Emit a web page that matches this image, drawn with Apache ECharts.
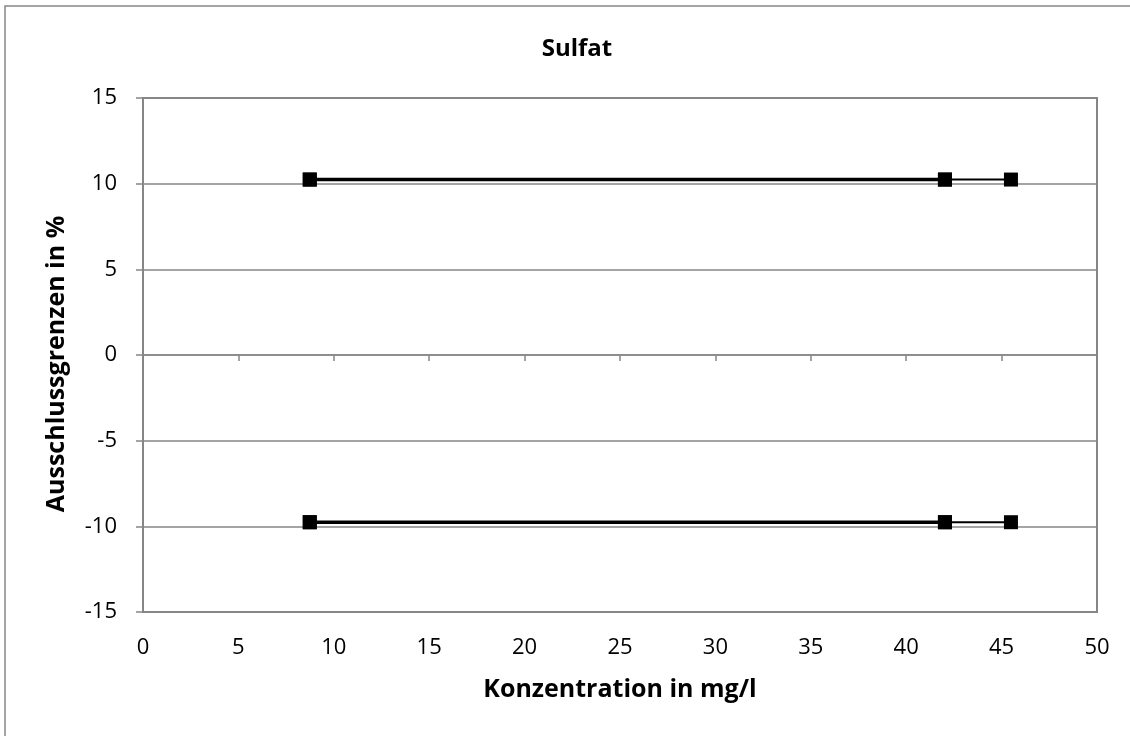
<!DOCTYPE html>
<html>
<head>
<meta charset="utf-8">
<script src="https://cdn.jsdelivr.net/npm/echarts@6/dist/echarts.min.js"></script>
<style>
html,body{margin:0;padding:0;background:#fff;}
#chart{width:1130px;height:736px;}
</style>
</head>
<body>
<div id="chart"></div>
<script>
const chartTitle = 'Sulfat';
const xAxisTitle = 'Konzentration in mg/l';
const yAxisTitle = 'Ausschlussgrenzen in %';
const concentrations = [8.74, 42.03, 45.49];
const upperLimit = [10.24, 10.24, 10.24];
const lowerLimit = [-9.76, -9.76, -9.76];

const FONT = '"Open Sans", "Noto Sans", sans-serif';
const GRAY = '#868686';

function pairs(xs, ys) { return xs.map((x, i) => [x, ys[i]]); }

function lineSeries(data, width) {
  return {
    type: 'line',
    xAxisIndex: 0,
    yAxisIndex: 0,
    data: data,
    symbol: 'rect',
    symbolSize: 14,
    itemStyle: { color: '#000' },
    lineStyle: { color: '#000', width: width },
    animation: false,
    z: 5
  };
}

const chart = echarts.init(document.getElementById('chart'), null, { renderer: 'canvas' });
chart.setOption({
  backgroundColor: '#fff',
  animation: false,
  title: {
    text: chartTitle,
    left: 572,
    textAlign: 'center',
    top: 32,
    textStyle: { fontFamily: FONT, fontWeight: 'bold', fontSize: 24, color: '#000' }
  },
  graphic: [{
    type: 'rect',
    shape: { x: 5, y: 6, width: 1140, height: 760 },
    style: { fill: 'none', stroke: GRAY, lineWidth: 1.5 },
    silent: true, z: -1
  }],
  grid: {
    left: 143, top: 98, right: 33, bottom: 124,
    show: true, borderColor: GRAY, borderWidth: 2, backgroundColor: 'transparent'
  },
  xAxis: [{
    type: 'value', position: 'bottom', min: 0, max: 50, interval: 5,
    name: xAxisTitle, nameLocation: 'middle', nameGap: 65,
    nameTextStyle: { fontFamily: FONT, fontWeight: 'bold', fontSize: 25, color: '#000' },
    axisLine: { show: true, onZero: false, lineStyle: { color: GRAY, width: 2 } },
    axisTick: { show: false },
    axisLabel: { margin: 25, fontFamily: FONT, fontSize: 22, color: '#000' },
    splitLine: { show: false }
  }, {
    type: 'value', position: 'top', min: 0, max: 50, interval: 5,
    axisLine: { show: true, onZero: true, lineStyle: { color: GRAY, width: 1.5 } },
    axisTick: { show: true, inside: true, length: 6, lineStyle: { color: GRAY, width: 1.5 } },
    axisLabel: { show: false },
    splitLine: { show: false }
  }],
  yAxis: {
    type: 'value', min: -15, max: 15, interval: 5,
    name: yAxisTitle, nameLocation: 'middle', nameGap: 74,
    nameTextStyle: { fontFamily: FONT, fontWeight: 'bold', fontSize: 25, color: '#000', padding: [0, 18, 0, 0] },
    axisLine: { show: true, onZero: false, lineStyle: { color: GRAY, width: 2 } },
    axisTick: { show: true, length: 7, lineStyle: { color: GRAY, width: 1.5 } },
    axisLabel: { margin: 26, fontFamily: FONT, fontSize: 22, color: '#000' },
    splitLine: { show: true, lineStyle: { color: GRAY, width: 1.5 } }
  },
  series: [
    lineSeries(pairs(concentrations, upperLimit), 2),
    lineSeries(pairs(concentrations.slice(0, 2), upperLimit.slice(0, 2)), 3.5),
    lineSeries(pairs(concentrations, lowerLimit), 2),
    lineSeries(pairs(concentrations.slice(0, 2), lowerLimit.slice(0, 2)), 3.5)
  ]
});
</script>
</body>
</html>
